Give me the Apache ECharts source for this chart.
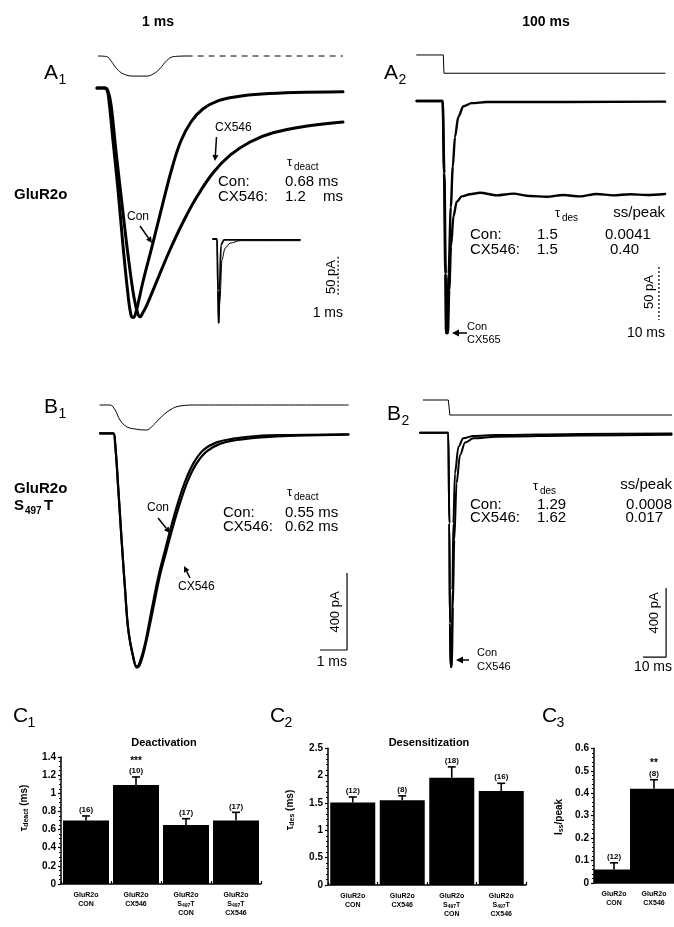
<!DOCTYPE html>
<html><head><meta charset="utf-8">
<script src="https://cdn.jsdelivr.net/npm/echarts/dist/echarts.min.js"></script>
<style>html,body{margin:0;padding:0;background:#fff}#c{width:674px;height:927px}</style>
</head><body><div id="c"></div>
<script>
// ---------- DATA (time in ms, current in pA, stimulus normalised) ----------
const a1Stim = [[0.05,0],[0.36,-0.03],[0.54,-0.28],[0.73,-0.62],[0.97,-0.87],[1.34,-0.98],[1.84,-0.98],[2.09,-0.87],[2.33,-0.62],[2.58,-0.23],[2.83,-0.03],[3.32,0]];
const a1StimTail = [[3.32,0],[9.11,0]];
const a1Con = [[0,0],[0.26,0],[0.37,-2.5],[0.44,-15],[0.59,-65],[0.78,-128],[0.96,-196],[1.15,-259],[1.26,-284],[1.34,-287],[1.43,-282],[1.70,-242.5],[2.07,-194],[2.44,-144],[2.78,-100],[3.11,-66],[3.48,-42.5],[3.93,-26],[4.48,-16],[5.22,-10.6],[6.11,-7.5],[7.33,-5.6],[9.11,-4.6]];
const a1Cx = [[0,0],[0.30,0],[0.41,-4],[0.52,-21],[0.70,-78],[0.93,-146],[1.15,-209],[1.37,-262],[1.52,-283],[1.60,-286],[1.68,-282],[1.85,-271],[2.22,-241],[2.70,-202.5],[3.19,-167.5],[3.70,-136],[4.30,-106],[4.93,-84],[5.67,-67.5],[6.52,-56],[7.78,-47.5],[9.11,-42.5]];
const a1InsetCon = [[0,0],[4.6,0],[5.7,-0.61],[6.3,-1],[7.5,-0.61],[9.2,-0.07],[12.6,-0.01],[100,-0.01]];
const a1InsetCx = [[0,0],[4.6,0],[6.1,-0.73],[6.7,-1],[8.0,-0.73],[10.3,-0.25],[13.8,-0.11],[19.5,-0.05],[31,-0.02],[100,-0.02]];
const a1Scale = [[8.93,-211],[8.93,-261]];

const a2Stim = [[0,0],[12.1,0],[12.4,-1],[112.9,-1]];
const a2Con = [[0,0],[11.8,0],[12.4,-68],[13.0,-163],[13.3,-219],[13.9,-219],[14.5,-163],[15.5,-100],[16.4,-62],[17.4,-34],[18.9,-15],[21.2,-5],[25.0,-2],[31.8,-1],[112.9,-0.6]];
const a2Cx = [[0,0],[11.8,0],[12.6,-68],[13.2,-163],[13.5,-219],[14.2,-219],[14.8,-178],[15.6,-137],[16.7,-109],[18.2,-95],[20.5,-90],[24.2,-88],[28.8,-86.5],[36.4,-89],[43.9,-87.4],[51.5,-89.6],[59.1,-90.3],[66.7,-88.7],[74.2,-90],[81.8,-87.7],[89.4,-89],[97,-88],[104.5,-88.7],[112.9,-87.7]];
const a2Scale = [[110.1,-156.6],[110.1,-206.6]];

const b1Stim = [[0,0],[0.37,0],[0.56,-0.2],[0.74,-0.6],[0.99,-0.87],[1.36,-0.97],[1.73,-1],[1.98,-0.8],[2.22,-0.53],[2.59,-0.2],[2.96,-0.04],[3.58,0],[9.20,0]];
const b1Con = [[0,0],[0.49,0],[0.56,-52],[0.68,-294],[0.80,-554],[0.93,-814],[1.05,-1022],[1.23,-1160],[1.36,-1212],[1.48,-1186],[1.67,-1091],[1.91,-918],[2.16,-745],[2.41,-606],[2.65,-476],[2.90,-355],[3.15,-251],[3.46,-156],[3.83,-87],[4.32,-47],[4.94,-28],[5.80,-14],[7.04,-9],[9.20,-5]];
const b1Cx = [[0,0],[0.49,0],[0.56,-52],[0.68,-294],[0.80,-554],[0.93,-814],[1.05,-1025],[1.23,-1165],[1.37,-1217],[1.51,-1191],[1.70,-1091],[1.96,-918],[2.21,-745],[2.47,-606],[2.72,-476],[2.98,-355],[3.24,-251],[3.56,-160],[3.94,-95],[4.44,-55],[5.06,-35],[5.95,-21],[7.20,-12],[9.20,-7]];
const b1Scale = [[8.15,-1125.7],[9.15,-1125.7],[9.15,-725.7]];

const b2Stim = [[1.45,0],[12.3,0],[13.0,-1],[109.4,-1]];
const b2Con = [[0,0],[12.3,0],[12.75,-530],[13.0,-1115],[13.3,-1368],[13.8,-1368],[14.1,-920],[14.5,-530],[15.2,-238],[16.7,-82],[18.8,-33],[23.2,-19],[33.3,-14],[69.6,-8],[109.4,-4]];
const b2Cx = [[0,0],[12.3,0],[12.75,-530],[13.0,-1115],[13.3,-1368],[13.9,-1368],[14.3,-1018],[14.9,-628],[15.9,-296],[17.4,-131],[19.6,-58],[23.2,-33],[33.3,-23],[69.6,-16],[109.4,-12]];
const b2Scale = [[97,-1312],[107,-1312],[107,-908]];

const c1Cats = ['GluR2o\nCON','GluR2o\nCX546','GluR2o\nS{s|497}T\nCON','GluR2o\nS{s|497}T\nCX546'];
const c1Mean = [0.70, 1.09, 0.65, 0.70];
const c1Sem  = [0.05, 0.09, 0.07, 0.09];
const c1N    = ['(16)','(10)','(17)','(17)'];
const c1Sig  = ['','***','',''];
const c1Ticks = [0, 1.4, 0.2];

const c2Cats = ['GluR2o\nCON','GluR2o\nCX546','GluR2o\nS{s|497}T\nCON','GluR2o\nS{s|497}T\nCX546'];
const c2Mean = [1.51, 1.55, 1.96, 1.72];
const c2Sem  = [0.10, 0.08, 0.20, 0.14];
const c2N    = ['(12)','(8)','(18)','(16)'];
const c2Sig  = ['','','',''];
const c2Ticks = [0, 2.5, 0.5];

const c3Cats = ['GluR2o\nCON','GluR2o\nCX546'];
const c3Mean = [0.06, 0.42];
const c3Sem  = [0.03, 0.04];
const c3N    = ['(12)','(8)'];
const c3Sig  = ['','**'];
const c3Ticks = [0, 0.6, 0.1];

// ---------- LAYOUT ----------
const FF = '"Liberation Sans", Arial, Helvetica, sans-serif';
const chart = echarts.init(document.getElementById('c'), null, {renderer:'canvas'});

const grids = [
  {left:97,   top:51.9,  width:248.4, height:28.7},   // 0 A1 stim
  {left:97,   top:72,    width:248.4, height:272},    // 1 A1 main
  {left:213,  top:230.6, width:87,    height:100.8},  // 2 A1 inset
  {left:416.7,top:51.3,  width:248.4, height:25.6},   // 3 A2 stim
  {left:416.7,top:79.8,  width:248.4, height:275.6},  // 4 A2 main
  {left:100,  top:400,   width:248.4, height:35},     // 5 B1 stim
  {left:100,  top:414.05,width:248.4, height:269.5},  // 6 B1 main
  {left:420,  top:394,   width:251.6, height:27},     // 7 B2 stim
  {left:420,  top:415.6, width:251.6, height:265.05}, // 8 B2 main
  {left:61,   top:757,   width:200,   height:127},    // 9 C1
  {left:328,  top:748.3, width:198,   height:136.7},  // 10 C2
  {left:594,  top:748.3, width:100,   height:134.7}   // 11 C3
];
const ranges = [
  [0,9.2,-1.2,0.2],[0,9.2,-320,20],[0,100,-1.1,0.1],
  [0,112.9,-1.2,0.2],[0,112.9,-240,20],
  [0,9.2,-1.2,0.2],[0,9.2,-1300,100],
  [0,109.4,-1.4,0.4],[0,109.4,-1450,100]
];
const xAxes = [], yAxes = [];
ranges.forEach((r,i)=>{
  xAxes.push({type:'value', gridIndex:i, min:r[0], max:r[1], show:false});
  yAxes.push({type:'value', gridIndex:i, min:r[2], max:r[3], show:false});
});
const lblRich = {s:{fontSize:5, fontWeight:'bold', fontFamily:FF, padding:[3,0,0,0]}};
function barAxes(gi, cats, ticks, minorSplit){
  xAxes.push({type:'category', gridIndex:gi, data:cats,
    axisLine:{lineStyle:{color:'#000', width:1.5}},
    axisTick:{show:true, inside:true, length:3, alignWithLabel:false, lineStyle:{color:'#000', width:1.2}},
    axisLabel:{interval:0, color:'#000', fontFamily:FF, fontSize:7, fontWeight:'bold', lineHeight:9, margin:7,
      formatter:v=>v, rich:lblRich}
  });
  yAxes.push({type:'value', gridIndex:gi, min:ticks[0], max:ticks[1], interval:ticks[2],
    axisLine:{show:true, lineStyle:{color:'#000', width:1.5}},
    axisTick:{show:true, inside:false, length:3, lineStyle:{color:'#000', width:1.2}},
    minorTick:{show:true, splitNumber:minorSplit, length:2, lineStyle:{color:'#000', width:1}},
    splitLine:{show:false},
    axisLabel:{color:'#000', fontFamily:FF, fontSize:10, fontWeight:'bold', margin:5}
  });
}
barAxes(9, c1Cats, c1Ticks, 4);
barAxes(10, c2Cats, c2Ticks, 5);
barAxes(11, c3Cats, c3Ticks, 5);

const series = [];
function trace(gi, data, w, extra){
  series.push(Object.assign({type:'line', xAxisIndex:gi, yAxisIndex:gi, data:data, symbol:'none', showSymbol:false,
    smooth:0.4, clip:false, silent:true, animation:false,
    lineStyle:{color:'#000', width:w, cap:'round', join:'round'}}, extra||{}));
}
function scaleBar(gi, data, type){
  series.push({type:'line', xAxisIndex:gi, yAxisIndex:gi, data:data, symbol:'none', smooth:false, clip:false, silent:true, animation:false,
    lineStyle:{color:'#000', width:1.2, type:type}});
}
const mono = {smooth:0.3, smoothMonotone:'x'};
trace(0, a1Stim, 1);
trace(0, a1StimTail, 1, {smooth:false, lineStyle:{color:'#000', width:1, type:[6,5]}});
trace(1, a1Cx, 3);
trace(1, a1Con, 3);
trace(2, a1InsetCx, 1, mono);
trace(2, a1InsetCon, 1.8, mono);
scaleBar(1, a1Scale, [2,2]);
trace(3, a2Stim, 1, {smooth:false});
trace(4, a2Cx, 2.4, mono);
trace(4, a2Con, 2.4, mono);
scaleBar(4, a2Scale, [2,2]);
trace(5, b1Stim, 1);
trace(6, b1Cx, 2.2);
trace(6, b1Con, 2.2);
scaleBar(6, b1Scale, 'solid');
trace(7, b2Stim, 1, {smooth:false});
trace(8, b2Cx, 2, mono);
trace(8, b2Con, 2, mono);
scaleBar(8, b2Scale, 'solid');

function bars(gi, mean, sem, nl, sig, bw){
  series.push({type:'bar', xAxisIndex:gi, yAxisIndex:gi, data:mean, barWidth:bw, itemStyle:{color:'#000'}, silent:true, animation:false});
  series.push({type:'custom', xAxisIndex:gi, yAxisIndex:gi, silent:true, animation:false, z:5,
    data: mean.map((m,i)=>[i, m, m+sem[i]]),
    renderItem:(params, api)=>{
      const i = params.dataIndex;
      const b = api.coord([api.value(0), api.value(1)]);
      const t = api.coord([api.value(0), api.value(2)]);
      const ch = [
        {type:'line', shape:{x1:b[0], y1:b[1], x2:b[0], y2:t[1]}, style:{stroke:'#000', lineWidth:1.6}},
        {type:'line', shape:{x1:b[0]-4, y1:t[1], x2:b[0]+4, y2:t[1]}, style:{stroke:'#000', lineWidth:1.6}},
        {type:'text', style:{text:nl[i], x:b[0], y:t[1]-2, align:'center', verticalAlign:'bottom', textAlign:'center', textVerticalAlign:'bottom', font:'bold 8px '+FF, fill:'#000'}}
      ];
      if (sig[i]) ch.push({type:'text', style:{text:sig[i], x:b[0], y:t[1]-11, align:'center', verticalAlign:'bottom', textAlign:'center', textVerticalAlign:'bottom', font:'bold 10px '+FF, fill:'#000'}});
      return {type:'group', children:ch};
    }
  });
}
bars(9, c1Mean, c1Sem, c1N, c1Sig, 46);
bars(10, c2Mean, c2Sem, c2N, c2Sig, 45);
bars(11, c3Mean, c3Sem, c3N, c3Sig, 48);

// ---------- TEXT ----------
const G = [];
function T(x, y, s, o){
  o = o || {};
  const al = o.align || 'left', va = o.va || 'middle';
  G.push({type:'text', x:x, y:y, rotation:o.rot||0, z:10, silent:true,
    style:{text:s, fill:'#000', font:(o.w||'normal')+' '+(o.size||15)+'px '+FF,
      align:al, verticalAlign:va, textAlign:al, textVerticalAlign:va, rich:o.rich}});
}
function arrow(x1,y1,x2,y2,hl,hw){
  hl = hl||6; hw = hw||3;
  const dx=x2-x1, dy=y2-y1, L=Math.hypot(dx,dy), ux=dx/L, uy=dy/L;
  const bx=x2-ux*hl, by=y2-uy*hl;
  G.push({type:'line', z:10, silent:true, shape:{x1:x1,y1:y1,x2:bx,y2:by}, style:{stroke:'#000', lineWidth:1.5}});
  G.push({type:'polygon', z:10, silent:true, shape:{points:[[x2,y2],[bx-uy*hw,by+ux*hw],[bx+uy*hw,by-ux*hw]]}, style:{fill:'#000'}});
}
function panelLabel(x, y, L, n){
  T(x, y, L, {size:21});
  T(x+14.5, y+7, n, {size:14});
}
// titles
T(158, 22, '1 ms', {size:14, w:'bold', align:'center'});
T(546, 22, '100 ms', {size:14, w:'bold', align:'center'});
// panel labels
panelLabel(44, 73, 'A', '1');
panelLabel(384, 73, 'A', '2');
panelLabel(44, 407, 'B', '1');
panelLabel(387, 414, 'B', '2');
panelLabel(13, 716, 'C', '1');
panelLabel(270, 716, 'C', '2');
panelLabel(542, 716, 'C', '3');
// row labels
T(14, 195, 'GluR2o', {size:15, w:'bold'});
T(14, 489, 'GluR2o', {size:15, w:'bold'});
T(14, 506, 'S', {size:15, w:'bold'});
T(25, 511, '497', {size:10, w:'bold'});
T(44, 506, 'T', {size:15, w:'bold'});

// A1 annotations
T(215, 128, 'CX546', {size:12});
arrow(216.5, 137, 215, 161);
T(287, 162, 'τ', {size:13});
T(294, 167, 'deact', {size:10});
T(218, 182, 'Con:');
T(285, 182, '0.68 ms');
T(218, 197, 'CX546:');
T(285, 197, '1.2');
T(343, 197, 'ms', {align:'right'});
T(127, 217, 'Con', {size:12});
arrow(140, 226, 152, 243);
T(331, 277, '50 pA', {size:13, rot:Math.PI/2, align:'center'});
T(343, 313, '1 ms', {size:14, align:'right'});

// A2 annotations
T(555, 213, 'τ', {size:13});
T(562, 218, 'des', {size:10});
T(665, 213, 'ss/peak', {align:'right'});
T(470, 235, 'Con:');
T(537, 235, '1.5');
T(605, 235, '0.0041');
T(470, 250, 'CX546:');
T(537, 250, '1.5');
T(610, 250, '0.40');
T(649, 292, '50 pA', {size:13, rot:Math.PI/2, align:'center'});
T(665, 333, '10 ms', {size:14, align:'right'});
arrow(467, 333, 452, 333, 7, 3.5);
T(467, 327, 'Con', {size:11});
T(467, 340, 'CX565', {size:11});

// B1 annotations
T(287, 492, 'τ', {size:13});
T(294, 497, 'deact', {size:10});
T(223, 513, 'Con:');
T(285, 513, '0.55 ms');
T(223, 527, 'CX546:');
T(285, 527, '0.62 ms');
T(147, 508, 'Con', {size:12});
arrow(158, 518, 170, 533);
T(178, 587, 'CX546', {size:12});
arrow(190, 578, 184, 566);
T(335, 612, '400 pA', {size:13, rot:Math.PI/2, align:'center'});
T(347, 662, '1 ms', {size:14, align:'right'});

// B2 annotations
T(533, 486, 'τ', {size:13});
T(540, 491, 'des', {size:10});
T(672, 485, 'ss/peak', {align:'right'});
T(470, 505, 'Con:');
T(537, 505, '1.29');
T(672, 505, '0.0008', {align:'right'});
T(470, 518, 'CX546:');
T(537, 518, '1.62');
T(663, 518, '0.017', {align:'right'});
T(654, 613, '400 pA', {size:13, rot:Math.PI/2, align:'center'});
T(672, 667, '10 ms', {size:14, align:'right'});
arrow(469, 660, 456, 660, 7, 3.5);
T(477, 653, 'Con', {size:11});
T(477, 667, 'CX546', {size:11});

// bar chart titles & axis names
T(164, 743, 'Deactivation', {size:11, w:'bold', align:'center'});
T(429, 743, 'Desensitization', {size:11, w:'bold', align:'center'});
const nameRich = {s:{fontSize:7, fontWeight:'bold', fontFamily:FF, padding:[4,0,0,0]}};
T(24, 808, 'τ{s|deact} (ms)', {size:10, w:'bold', rot:Math.PI/2, align:'center', rich:nameRich});
T(290, 810, 'τ{s|des} (ms)', {size:10, w:'bold', rot:Math.PI/2, align:'center', rich:nameRich});
T(559, 817, 'I{s|ss}/peak', {size:10, w:'bold', rot:Math.PI/2, align:'center', rich:nameRich});

chart.setOption({
  backgroundColor:'#fff',
  animation:false,
  grid:grids,
  xAxis:xAxes,
  yAxis:yAxes,
  series:series,
  graphic:G
});
</script></body></html>
